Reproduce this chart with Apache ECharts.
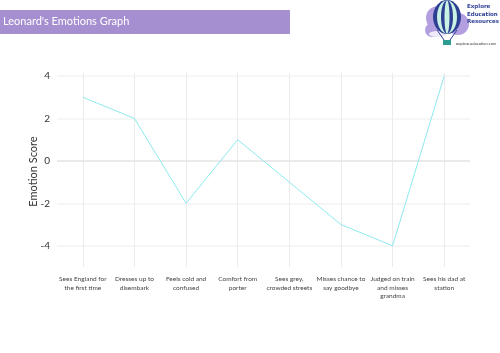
<!DOCTYPE html>
<html lang="en">
<head>
    <meta charset="UTF-8">
    <title>Leonard's Emotions Graph</title>
    <style>
        *{
            margin:0;
            padding:0;
            box-sizing:border-box;
        }
        html, body{
            height:100%;
            width:100%;
            background:#fff;
        }
        #myChart{
            height:353px;
            width:500px;
        }
    </style>
</head>
<body>
<div id="myChart"></div>
<script src="https://cdn.jsdelivr.net/npm/echarts@6/dist/echarts.min.js"></script>
<script>
    var categories = [
        'Sees England for\nthe first time',
        'Dresses up to\ndisembark',
        'Feels cold and\nconfused',
        'Comfort from\nporter',
        'Sees grey,\ncrowded streets',
        'Misses chance to\nsay goodbye',
        'Judged on train\nand misses\ngrandma',
        'Sees his dad at\nstation'
    ];
    var emotionScores = [3, 2, -2, 1, -1, -3, -4, 4];
    var yTicks = [-4, -2, 0, 2, 4];

    var myChart = echarts.init(document.getElementById('myChart'));

    // logo in the top right corner (balloon + text)
    var logo = [
        {type:'circle', shape:{cx:438, cy:18, r:12}, style:{fill:'#b39ee0'}},
        {type:'circle', shape:{cx:458, cy:24, r:11}, style:{fill:'#b39ee0'}},
        {type:'circle', shape:{cx:432, cy:30, r:7}, style:{fill:'#b39ee0'}},
        {type:'ellipse', shape:{cx:438, cy:34, rx:9, ry:3}, style:{fill:'#eeeaf8'}},
        {type:'ellipse', shape:{cx:447, cy:17, rx:14, ry:17}, style:{fill:'#2c3f93'}},
        {type:'ellipse', shape:{cx:447, cy:17, rx:10, ry:16.5}, style:{fill:'#c9f1e4'}},
        {type:'ellipse', shape:{cx:447, cy:17, rx:6, ry:16.5}, style:{fill:'#2c3f93'}},
        {type:'ellipse', shape:{cx:447, cy:17, rx:2.5, ry:16.5}, style:{fill:'#c9f1e4'}},
        {type:'line', shape:{x1:437, y1:30, x2:444, y2:40}, style:{stroke:'#2c3f93', lineWidth:1}},
        {type:'line', shape:{x1:457, y1:30, x2:450, y2:40}, style:{stroke:'#2c3f93', lineWidth:1}},
        {type:'rect', shape:{x:443, y:40, width:8, height:5}, style:{fill:'#2a9d8f'}},
        {type:'text', x:467, y:3, style:{text:'Explore\nEducation\nResources', fill:'#2c3f93', font:'bold 5.5px "DejaVu Sans"', lineHeight:7.5, align:'left'}},
        {type:'text', x:456, y:42, style:{text:'explore-education.com', fill:'#333', font:'3.5px "DejaVu Sans"', align:'left'}}
    ];

    var option = {
        backgroundColor:'#ffffff',
        animation:false,
        graphic:[
            {type:'rect', shape:{x:0, y:10, width:290, height:24}, style:{fill:'#a58fd1'}}
        ].concat(logo),
        title:{
            text:"Leonard's Emotions Graph",
            left:3,
            top:16,
            padding:0,
            textStyle:{
                color:'#ffffff',
                fontFamily:'Lato',
                fontWeight:'normal',
                fontSize:11
            }
        },
        grid:{
            left:57,
            right:30,
            top:76,
            bottom:86
        },
        xAxis:{
            type:'category',
            data:categories,
            boundaryGap:true,
            axisLine:{show:false, onZero:false},
            axisTick:{
                show:true,
                alignWithLabel:true,
                inside:true,
                length:194,
                lineStyle:{color:'#ebebeb', width:1}
            },
            splitLine:{show:false},
            axisLabel:{
                interval:0,
                margin:8,
                color:'#444',
                fontFamily:'Lato',
                fontSize:6.5,
                lineHeight:8.5
            }
        },
        yAxis:{
            type:'value',
            min:-5,
            max:4,
            name:'Emotion Score',
            nameLocation:'middle',
            nameGap:18,
            nameMoveOverlap:false,
            nameTextStyle:{
                color:'#333',
                fontFamily:'Lato',
                fontSize:11
            },
            axisLine:{show:false},
            axisTick:{show:false},
            axisLabel:{
                margin:7,
                color:'#333',
                fontFamily:'Lato',
                fontSize:10,
                formatter:function(v) {
                    return yTicks.indexOf(v) >= 0 ? String(v) : '';
                }
            },
            splitLine:{
                showMinLine:false,
                lineStyle:{color:'#f3f3f3', width:1.5}
            }
        },
        series:[
            {
                type:'line',
                data:emotionScores,
                symbol:'none',
                z:3,
                lineStyle:{color:'#8ee9ee', width:1},
                markLine:{
                    silent:true,
                    symbol:'none',
                    z:1,
                    label:{show:false},
                    lineStyle:{color:'#e6e6e6', width:1.5, type:'solid'},
                    data:[{yAxis:0}]
                }
            }
        ]
    };
    myChart.setOption(option);
</script>
</body>
</html>
